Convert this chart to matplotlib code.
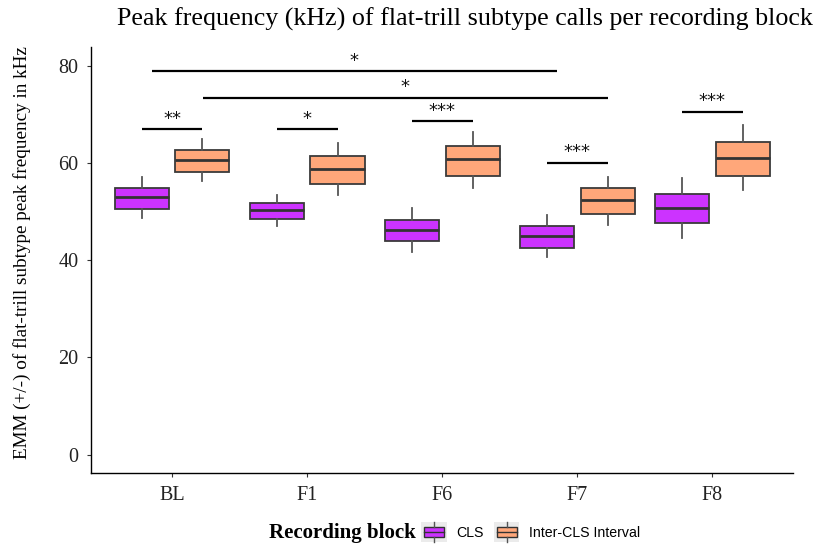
import matplotlib
matplotlib.use('Agg')
import matplotlib.pyplot as plt
from matplotlib.legend_handler import HandlerBase
from matplotlib.patches import Rectangle
from matplotlib.lines import Line2D

# recording blocks on the x axis
blocks = ['BL', 'F1', 'F6', 'F7', 'F8']
groups = ['CLS', 'Inter-CLS Interval']
colors = {'CLS': '#CC33FF', 'Inter-CLS Interval': '#FFA77A'}

# box statistics per group: lower whisker, q1, median, q3, upper whisker
cls_whislo = [48.7, 47.0, 41.7, 40.6, 44.5]
cls_q1 = [50.6, 48.5, 43.9, 42.4, 47.6]
cls_med = [52.9, 50.3, 46.1, 44.9, 50.7]
cls_q3 = [54.8, 51.8, 48.3, 47.1, 53.7]
cls_whishi = [57.0, 53.4, 50.7, 49.2, 56.8]

inter_whislo = [56.3, 53.3, 54.8, 47.3, 54.4]
inter_q1 = [58.1, 55.6, 57.4, 49.4, 57.4]
inter_med = [60.6, 58.8, 60.7, 52.3, 61.1]
inter_q3 = [62.6, 61.4, 63.4, 54.8, 64.2]
inter_whishi = [64.9, 64.0, 66.3, 57.0, 67.7]

# significance brackets: x from, x to, height, label
sig_x1 = [0.775, 1.775, 2.775, 3.775, 4.775, 0.85, 1.23]
sig_x2 = [1.225, 2.225, 3.225, 4.225, 5.225, 3.85, 4.225]
sig_y = [66.9, 66.9, 68.6, 60.0, 70.5, 78.9, 73.4]
sig_lab = ['**', '*', '***', '***', '***', '*', '*']


def make_stats(lo, q1, med, q3, hi):
    return [dict(whislo=lo[i], q1=q1[i], med=med[i], q3=q3[i], whishi=hi[i], fliers=[])
            for i in range(len(med))]


class BoxGlyph(HandlerBase):
    # small boxplot key on a grey square, ggplot style
    def create_artists(self, legend, orig_handle, xdescent, ydescent,
                       width, height, fontsize, trans):
        x0, y0 = -xdescent, -ydescent
        w, h = width, height
        bg = Rectangle((x0, y0), w, h, facecolor='#ebebeb',
                       edgecolor='none', transform=trans)
        box = Rectangle((x0 + 2, y0 + h * 0.28), w - 4, h * 0.44,
                        facecolor=orig_handle.get_facecolor(), edgecolor='#333333',
                        lw=1.0, transform=trans)
        med = Line2D([x0 + 2, x0 + w - 2], [y0 + h / 2] * 2, color='#333333',
                     lw=1.0, transform=trans)
        top = Line2D([x0 + w / 2] * 2, [y0 + h * 0.72, y0 + h],
                     color='#555555', lw=1.0, transform=trans)
        bot = Line2D([x0 + w / 2] * 2, [y0, y0 + h * 0.28],
                     color='#555555', lw=1.0, transform=trans)
        return [bg, box, med, top, bot]


fig = plt.figure(figsize=(8.15, 5.48), dpi=100)
ax = fig.add_axes([0.1117, 0.1363, 0.8617, 0.7785])

pos = list(range(1, len(blocks) + 1))
all_stats = [make_stats(cls_whislo, cls_q1, cls_med, cls_q3, cls_whishi),
             make_stats(inter_whislo, inter_q1, inter_med, inter_q3, inter_whishi)]
offsets = [-0.225, 0.225]
for g, stats, off in zip(groups, all_stats, offsets):
    ax.bxp(stats, positions=[p + off for p in pos], widths=0.4, patch_artist=True,
           showcaps=False, showfliers=False,
           boxprops=dict(facecolor=colors[g], edgecolor='#3a3a3a', lw=1.3),
           medianprops=dict(color='#333333', lw=2.0),
           whiskerprops=dict(color='#555555', lw=1.3))

for x1, x2, y, lab in zip(sig_x1, sig_x2, sig_y, sig_lab):
    ax.plot([x1, x2], [y, y], color='black', lw=1.6, solid_capstyle='butt')
    ax.text((x1 + x2) / 2, y + 0.3, lab, ha='center', va='bottom', fontsize=13,
            family='DejaVu Sans', color='#111111')

ax.set_xlim(0.4, 5.6)
ax.set_ylim(-3.85, 83.9)
ax.set_xticks(pos)
ax.set_xticklabels(blocks)
ax.set_yticks([0, 20, 40, 60, 80])
for s in ['top', 'right']:
    ax.spines[s].set_visible(False)
for s in ['left', 'bottom']:
    ax.spines[s].set_linewidth(1.0)
ax.tick_params(labelsize=14.5, length=3, width=0.8, colors='#333333', pad=6)
for t in ax.get_xticklabels() + ax.get_yticklabels():
    t.set_family('Liberation Serif')
    t.set_color('#222222')

fig.text(22 / 815, 1 - 253 / 548, 'EMM (+/-) of flat-trill subtype peak frequency in kHz',
         rotation=90, ha='center', va='center', family='Liberation Serif', fontsize=13.8)
fig.text(465 / 815, 1 - 19 / 548, 'Peak frequency (kHz) of flat-trill subtype calls per recording block',
         ha='center', va='center', family='Liberation Serif', fontsize=18.7)

fig.text(416 / 815, 1 - 533 / 548, 'Recording block', ha='right', va='center',
         family='Liberation Serif', fontweight='bold', fontsize=15)
handles = [Rectangle((0, 0), 1, 1, facecolor=colors[g]) for g in groups]
fig.legend(handles, groups, loc='center left', bbox_to_anchor=(421 / 815, 1 - 532 / 548),
           ncol=2, frameon=False, handler_map={Rectangle: BoxGlyph()},
           prop={'family': 'Liberation Sans', 'size': 10.2}, handlelength=1.8,
           handleheight=1.9, handletextpad=0.7, columnspacing=0.7, borderpad=0,
           borderaxespad=0)

fig.savefig('out.png', dpi=100)
